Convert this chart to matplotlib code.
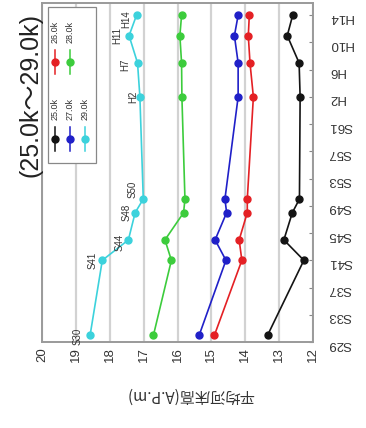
import matplotlib
matplotlib.use("Agg")
import matplotlib.pyplot as plt
from matplotlib.lines import Line2D
from matplotlib.patches import Rectangle

plt.rcParams['font.family'] = ['Liberation Sans', 'Noto Sans CJK JP', 'DejaVu Sans']

# survey years (Western calendar) and their era labels
years = [1955, 1966, 1969, 1973, 1975, 1990, 1995, 1999, 2002]
year_labels = ['S30', 'S41', 'S44', 'S48', 'S50', 'H2', 'H7', 'H11', 'H14']

# mean riverbed elevation (A.P. m) per section
bed_25k = [13.34, 12.27, 12.86, 12.61, 12.40, 12.38, 12.41, 12.76, 12.60]
bed_26k = [14.91, 14.10, 14.18, 13.94, 13.94, 13.76, 13.86, 13.91, 13.88]
bed_27k = [15.36, 14.57, 14.89, 14.55, 14.60, 14.21, 14.21, 14.32, 14.21]
bed_28k = [16.71, 16.18, 16.37, 15.82, 15.78, 15.87, 15.88, 15.93, 15.88]
bed_29k = [18.58, 18.22, 17.45, 17.25, 17.01, 17.11, 17.18, 17.43, 17.21]

section_names = ['25.0k', '26.0k', '27.0k', '28.0k', '29.0k']

# axis ticks
tick_years = [1954, 1958, 1962, 1966, 1970, 1974, 1978, 1982, 1986, 1990, 1994, 1998, 2002]
tick_year_labels = ['S29', 'S33', 'S37', 'S41', 'S45', 'S49', 'S53', 'S57', 'S61',
                    'H2', 'H6', 'H10', 'H14']
elev_ticks = [20, 19, 18, 17, 16, 15, 14, 13, 12]

colors = ['#141414', '#e42024', '#2020c8', '#3ccc3c', '#3cd2dc']
series = [bed_25k, bed_26k, bed_27k, bed_28k, bed_29k]

W, H = 366, 428
fig = plt.figure(figsize=(W / 100, H / 100), dpi=100)
ax = fig.add_axes([42 / W, (H - 342) / H, (313 - 42) / W, (342 - 3) / H])

for vals, c in zip(series, colors):
    ax.plot(vals, years, color=c, lw=1.2, marker='o', ms=5, mec=c, mfc=c, zorder=3)

ax.set_xlim(20, 12)
ax.set_ylim(1954, 2003.8)

ax.set_xticks(elev_ticks)
ax.set_xticklabels([str(v) for v in elev_ticks], rotation=90, fontsize=9.5, color='#333333')
ax.grid(axis='x', color='#d2d2d2', lw=1.6)
ax.set_axisbelow(True)

ax.yaxis.tick_right()
ax.set_yticks(tick_years)
ax.set_yticklabels(tick_year_labels, rotation=180, fontsize=9.5, color='#333333')
ax.tick_params(axis='y', direction='in', length=3, width=0.8, color='#888888', pad=11)
ax.tick_params(axis='x', direction='in', length=0, pad=4)

for s in ax.spines.values():
    s.set_color('#9a9a9a')
    s.set_linewidth(1.4)

# point labels along the 29.0k line
label_offsets = {'S30': (-13, -1), 'S41': (-10, 0), 'S44': (-9, -2), 'S48': (-9, 0),
                 'S50': (-11, 10), 'H2': (-7, 0), 'H7': (-12, -2), 'H11': (-12, 0),
                 'H14': (-10, -4)}
for x, y, lab in zip(bed_29k, years, year_labels):
    ax.annotate(lab, (x, y), xytext=label_offsets[lab], textcoords='offset pixels',
                rotation=90, ha='center', va='center', fontsize=7, color='#333333')

# legend drawn sideways in the upper-left corner
def px_to_ax(px, py):
    return (px - 42) / 271, (342 - py) / 339

x0, y0 = px_to_ax(48, 163)
x1, y1 = px_to_ax(96, 7)
ax.add_patch(Rectangle((x0, y0), x1 - x0, y1 - y0, transform=ax.transAxes,
                       fc='white', ec='#888888', lw=0.9, zorder=5))
legend_slots = [(55, 139), (55, 62), (70, 139), (70, 62), (85, 139)]
for (px, py), name, c in zip(legend_slots, section_names, colors):
    lx, ly_a = px_to_ax(px, py + 12)
    _, ly_b = px_to_ax(px, py - 12)
    ax.add_line(Line2D([lx, lx], [ly_a, ly_b], transform=ax.transAxes,
                       color=c, lw=1.1, zorder=6))
    mx, my = px_to_ax(px, py)
    ax.add_line(Line2D([mx], [my], transform=ax.transAxes, marker='o', ms=5,
                       color=c, zorder=7))
    tx, ty = px_to_ax(px, py - 30)
    ax.text(tx, ty, name, transform=ax.transAxes, rotation=90, ha='center',
            va='center', fontsize=6.5, color='#333333', zorder=7)

fig.text(31 / W, 1 - 95 / H, '(25.0k〜29.0k)', rotation=90, ha='center', va='center',
         fontsize=18, color='#222222')
fig.text(190 / W, 1 - 395 / H, '平均河床高(A.P.m)', rotation=180, ha='center',
         va='center', fontsize=11, color='#333333',
         family=['Noto Sans CJK JP', 'DejaVu Sans'])

fig.savefig('out.png', dpi=100)
